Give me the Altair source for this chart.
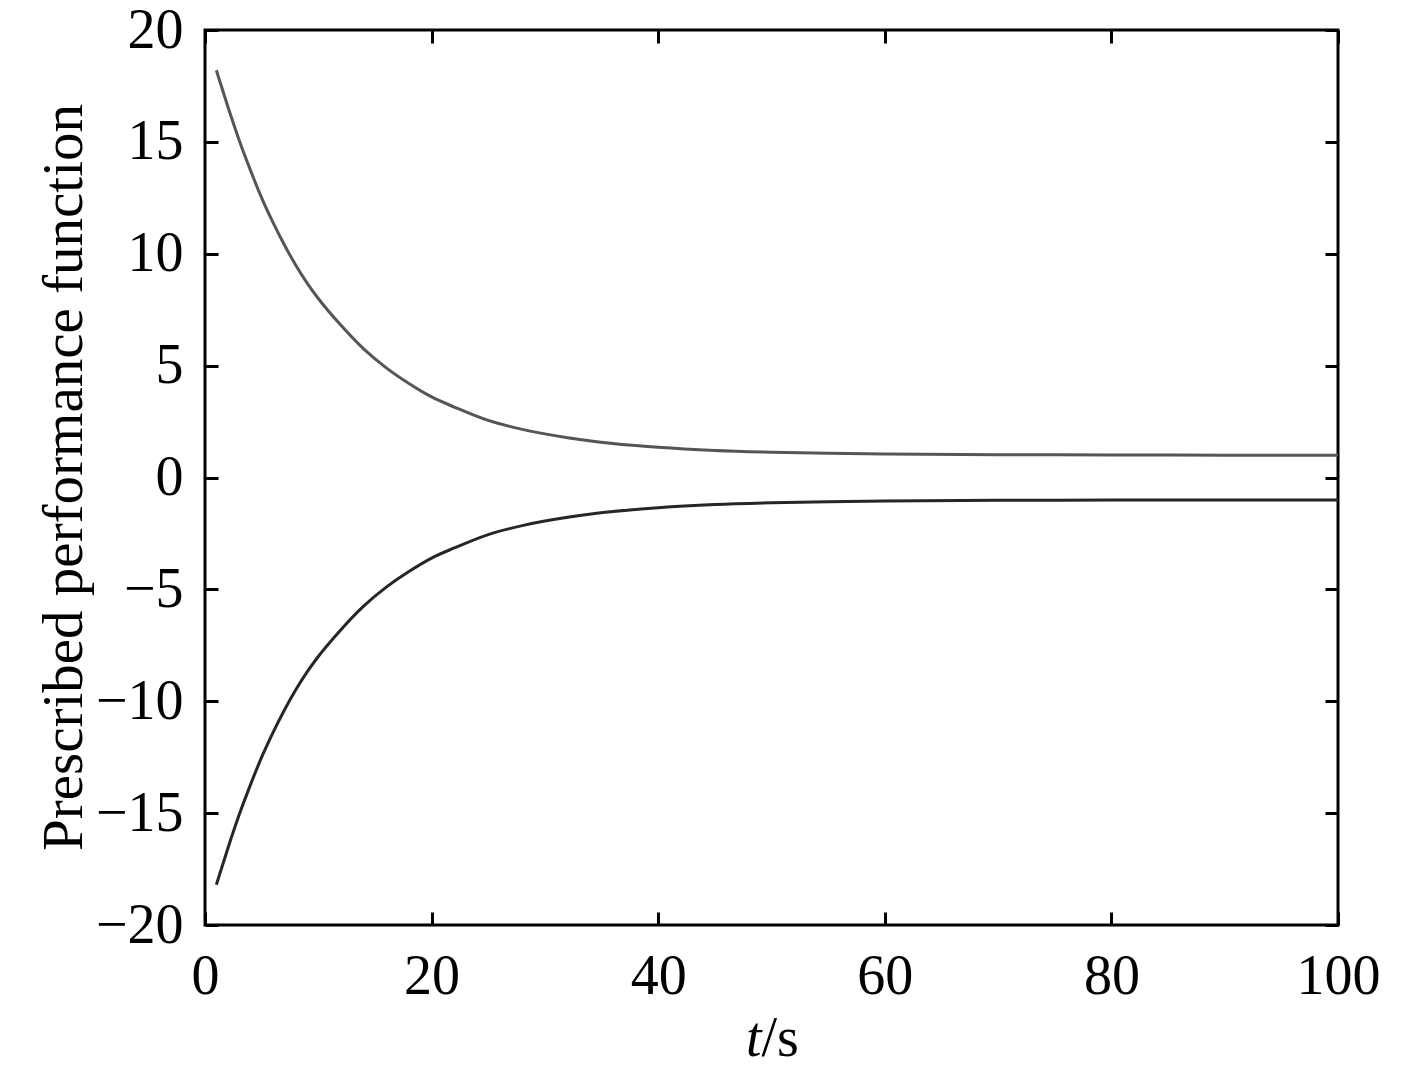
import altair as alt
import pandas as pd

# values
t_values = [1, 2, 3, 4, 5, 6, 7, 8, 9, 10, 12, 14, 16, 18, 20, 22, 25, 28,
            32, 36, 40, 45, 50, 55, 60, 70, 80, 90, 100]
upper_bound = [18.2, 16.6, 15.1, 13.75, 12.5, 11.4, 10.4, 9.5, 8.7, 8.0, 6.8,
               5.75, 4.9, 4.2, 3.6, 3.15, 2.55, 2.15, 1.78, 1.52, 1.35, 1.21,
               1.13, 1.08, 1.05, 1.02, 1.01, 1.0, 1.0]
lower_bound = [-18.2, -16.6, -15.1, -13.75, -12.5, -11.4, -10.4, -9.5, -8.7,
               -8.0, -6.8, -5.75, -4.9, -4.2, -3.6, -3.15, -2.55, -2.15, -1.78,
               -1.52, -1.35, -1.21, -1.13, -1.08, -1.05, -1.02, -1.01, -1.0,
               -1.0]
x_ticks = [0, 20, 40, 60, 80, 100]
y_ticks = [-20, -15, -10, -5, 0, 5, 10, 15, 20]
y_title = "Prescribed performance function"

df = pd.DataFrame({"t": t_values, "upper": upper_bound, "lower": lower_bound})

FONT = "Liberation Serif"
W, H = 1133, 895
TICK = 13

xscale = alt.Scale(domain=[0, 100], nice=False, zero=False)
yscale = alt.Scale(domain=[-20, 20], nice=False, zero=False)

common = dict(domain=False, grid=False, tickSize=TICK, tickWidth=3,
              tickColor="black", offset=-TICK, labelFont=FONT,
              labelFontSize=56, labelColor="black")

x_bottom = alt.Axis(orient="bottom", values=x_ticks, labelPadding=24,
                    labelFlush=False, **common)
y_left = alt.Axis(orient="left", values=y_ticks, labelPadding=22, **common)
x_top = alt.Axis(orient="top", values=x_ticks, labels=False, **common)
y_right = alt.Axis(orient="right", values=y_ticks, labels=False, **common)

base = alt.Chart(df)

upper = base.mark_line(color="#555555", strokeWidth=3,
                       interpolate="monotone").encode(
    x=alt.X("t:Q", scale=xscale, axis=x_bottom, title=None),
    y=alt.Y("upper:Q", scale=yscale, axis=y_left, title=None),
)
lower = base.mark_line(color="#262626", strokeWidth=3,
                       interpolate="monotone").encode(
    x=alt.X("t:Q", scale=xscale, axis=x_top, title=None),
    y=alt.Y("lower:Q", scale=yscale, axis=y_right, title=None),
)

one = pd.DataFrame({"k": [0]})
t_italic = alt.Chart(one).mark_text(
    font=FONT, fontSize=56, fontStyle="italic", align="right",
    baseline="alphabetic", color="black").encode(
    x=alt.value(W / 2 - 10), y=alt.value(H + 131), text=alt.value("t"))
t_rest = alt.Chart(one).mark_text(
    font=FONT, fontSize=56, align="left",
    baseline="alphabetic", color="black").encode(
    x=alt.value(W / 2 - 10), y=alt.value(H + 131), text=alt.value("/s"))
ytitle = alt.Chart(one).mark_text(
    font=FONT, fontSize=57, angle=270, align="center",
    baseline="alphabetic", color="black").encode(
    x=alt.value(-123), y=alt.value(H / 2), text=alt.value(y_title))

chart = alt.layer(upper, lower, t_italic, t_rest, ytitle).resolve_axis(
    x="independent", y="independent"
).properties(
    width=W, height=H,
    autosize=alt.AutoSizeParams(type="none"),
    padding={"left": 197, "top": 22, "right": 70, "bottom": 145},
).configure_view(stroke="black", strokeWidth=3)

chart.save("out.html", embed_options={"renderer": "svg", "actions": False})
